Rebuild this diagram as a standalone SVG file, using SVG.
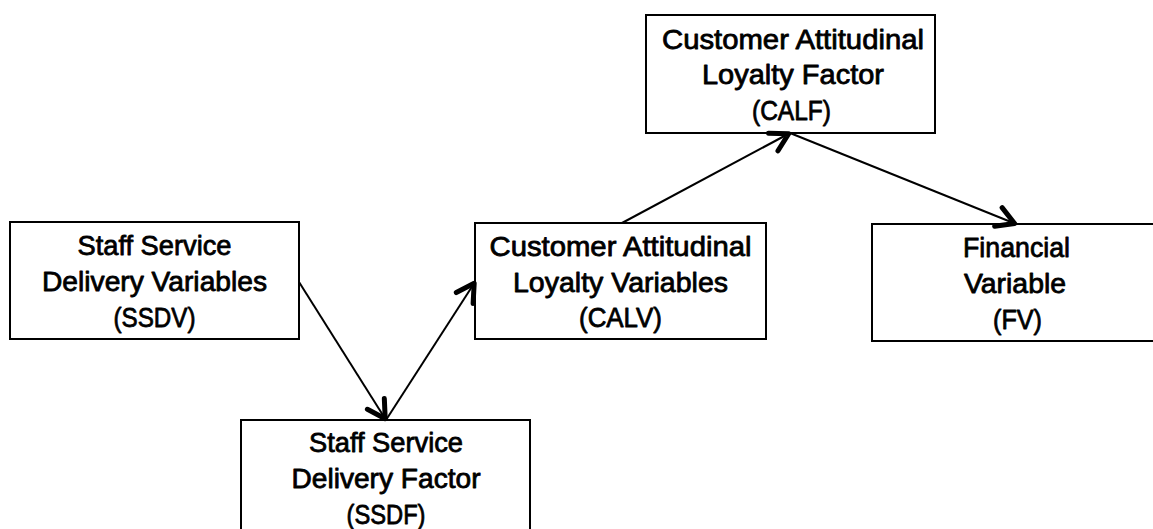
<svg xmlns="http://www.w3.org/2000/svg" width="1153" height="529" viewBox="0 0 1153 529">
  <style>
    .box { fill: #ffffff; stroke: #000000; stroke-width: 2; }
    .lbl { font-family: "Liberation Sans", Arial, sans-serif; font-size: 28px; fill: #000000; stroke: #000000; stroke-width: 0.8; stroke-linejoin: round; text-anchor: middle; }
    .edge { stroke: #000000; stroke-width: 2; fill: none; marker-end: url(#openArrow); }
  </style>
  <defs>
    <marker id="openArrow" markerUnits="userSpaceOnUse" viewBox="-26 -15 30 30" refX="0" refY="0" markerWidth="30" markerHeight="30" orient="auto" overflow="visible">
      <path d="M-19,-10 L-1.5,0 L-19,10" fill="none" stroke="#000000" stroke-width="5" stroke-linecap="round" stroke-linejoin="round"/>
    </marker>
  </defs>

  <rect width="1153" height="529" fill="#ffffff"/>

  <g id="node-ssdv">
    <rect class="box" x="10" y="222" width="289" height="117"/>
    <text class="lbl" x="154.5" y="255" textLength="154" lengthAdjust="spacingAndGlyphs">Staff Service</text>
    <text class="lbl" x="154.5" y="291" textLength="225" lengthAdjust="spacingAndGlyphs">Delivery Variables</text>
    <text class="lbl" x="154.5" y="327" textLength="82" lengthAdjust="spacingAndGlyphs">(SSDV)</text>
  </g>

  <g id="node-ssdf">
    <rect class="box" x="241" y="420" width="289" height="117"/>
    <text class="lbl" x="386" y="452" textLength="154" lengthAdjust="spacingAndGlyphs">Staff Service</text>
    <text class="lbl" x="386" y="488" textLength="189" lengthAdjust="spacingAndGlyphs">Delivery Factor</text>
    <text class="lbl" x="386" y="524" textLength="79" lengthAdjust="spacingAndGlyphs">(SSDF)</text>
  </g>

  <g id="node-calv">
    <rect class="box" x="475" y="223" width="291" height="116"/>
    <text class="lbl" x="620.5" y="256" textLength="262" lengthAdjust="spacingAndGlyphs">Customer Attitudinal</text>
    <text class="lbl" x="620.5" y="292" textLength="215" lengthAdjust="spacingAndGlyphs">Loyalty Variables</text>
    <text class="lbl" x="620.5" y="327" textLength="83" lengthAdjust="spacingAndGlyphs">(CALV)</text>
  </g>

  <g id="node-calf">
    <rect class="box" x="646" y="15" width="289" height="118"/>
    <text class="lbl" x="793" y="49" textLength="262" lengthAdjust="spacingAndGlyphs">Customer Attitudinal</text>
    <text class="lbl" x="793" y="84" textLength="182" lengthAdjust="spacingAndGlyphs">Loyalty Factor</text>
    <text class="lbl" x="791.5" y="120" textLength="79" lengthAdjust="spacingAndGlyphs">(CALF)</text>
  </g>

  <g id="node-fv">
    <rect class="box" x="872" y="224" width="289" height="117"/>
    <text class="lbl" x="1016.5" y="257" textLength="107" lengthAdjust="spacingAndGlyphs">Financial</text>
    <text class="lbl" x="1015" y="293" textLength="102" lengthAdjust="spacingAndGlyphs">Variable</text>
    <text class="lbl" x="1017.5" y="329" textLength="49" lengthAdjust="spacingAndGlyphs">(FV)</text>
  </g>

  <g id="connectors">
    <line class="edge" x1="299" y1="282" x2="386" y2="420"/>
    <line class="edge" x1="386" y1="420" x2="475" y2="282"/>
    <line class="edge" x1="622" y1="223" x2="790" y2="133"/>
    <line class="edge" x1="790" y1="133" x2="1016" y2="224"/>
  </g>
</svg>
